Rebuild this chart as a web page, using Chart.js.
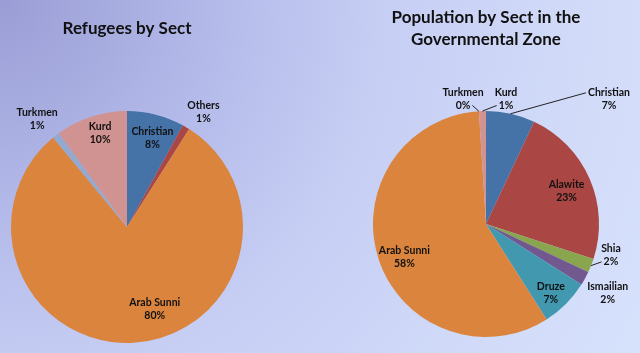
<!DOCTYPE html>
<html>
<head>
<meta charset="utf-8">
<script src="https://cdn.jsdelivr.net/npm/chart.js@4/dist/chart.umd.min.js"></script>
<style>
  html, body { margin: 0; padding: 0; }
  body {
    width: 640px; height: 353px; overflow: hidden; position: relative;
    background: radial-gradient(circle at 0 0, #9a9dd5 0px, #b4bbea 220px, #c6cef4 380px, #d2dcf9 600px, #d7e2fd 740px);
  }
  #left { position: absolute; left: 0; top: 0; }
  #right { position: absolute; left: 330px; top: 0; }
</style>
</head>
<body>
<canvas id="left" width="254" height="353"></canvas>
<canvas id="right" width="310" height="353"></canvas>
<script>
// data
const refugeeSects = ['Christian', 'Others', 'Arab Sunni', 'Turkmen', 'Kurd'];
const refugeeShare = [8, 1, 80, 1, 10];
const govSects = ['Christian', 'Alawite', 'Shia', 'Ismailian', 'Druze', 'Arab Sunni', 'Turkmen', 'Kurd'];
const govShare = [7, 23, 2, 2, 7, 58, 0, 1];

// excel-ish palette
const colorOf = {
  'Christian': '#4572A7', 'Others': '#AA4643', 'Alawite': '#AA4643', 'Shia': '#89A54E',
  'Ismailian': '#71588F', 'Druze': '#4198AF', 'Arab Sunni': '#DB843D',
  'Turkmen': '#93A9CF', 'Kurd': '#D19392'
};

// label placement: [angle shift in deg, radius factor, leader side, leader line]
const refugeePlace = [[1.5, 0.8], [3, 1.19], [-15, 0.75], [-2, 1.21], [2, 0.84]];
const govPlace = [[32, 1.55, 'left', 0], [1.2, 0.77], [-7.5, 1.14, 'left', 1], [0.9, 1.24],
  [1.9, 0.84], [-4.2, 0.78], [-6.8, 1.125, 'right', 1], [10.9, 1.12, 'left', 1]];

const sliceLabels = {
  id: 'sliceLabels',
  afterDatasetsDraw(chart, args, opts) {
    const ctx = chart.ctx;
    const meta = chart.getDatasetMeta(0);
    const ds = chart.data.datasets[0];
    ctx.save();
    ctx.font = 'bold 10.5px Lato';
    ctx.textAlign = 'center';
    ctx.textBaseline = 'middle';
    meta.data.forEach((arc, i) => {
      const p = opts.place[i];
      const mid = (arc.startAngle + arc.endAngle) / 2;
      const a = mid + p[0] * Math.PI / 180;
      const r = arc.outerRadius * p[1];
      const x = arc.x + Math.cos(a) * r;
      const y = arc.y + Math.sin(a) * r;
      const lines = [chart.data.labels[i], Math.round(ds.data[i]) + '%'];
      const lh = 13;
      if (p[2]) {
        const w = ctx.measureText(lines[p[3]]).width;
        const ly = y - lh / 2 + p[3] * lh;
        const lx = p[2] === 'left' ? x - w / 2 - 2 : x + w / 2 + 2;
        ctx.strokeStyle = '#222';
        ctx.lineWidth = 1;
        ctx.beginPath();
        ctx.moveTo(arc.x + Math.cos(mid) * arc.outerRadius, arc.y + Math.sin(mid) * arc.outerRadius);
        ctx.lineTo(lx, ly);
        ctx.stroke();
      }
      ctx.fillStyle = '#111';
      lines.forEach((t, k) => ctx.fillText(t, x, y - lh / 2 + k * lh));
    });
    ctx.restore();
  }
};

function makePie(id, labels, values, place, title, pad, titlePad) {
  return new Chart(document.getElementById(id), {
    type: 'pie',
    data: {
      labels: labels,
      datasets: [{
        data: values,
        backgroundColor: labels.map(l => colorOf[l]),
        borderWidth: 0,
        hoverOffset: 0
      }]
    },
    options: {
      responsive: false,
      animation: false,
      events: [],
      layout: { padding: pad },
      plugins: {
        legend: { display: false },
        tooltip: { enabled: false },
        title: {
          display: true,
          text: title,
          color: '#111',
          font: { family: 'Lato', size: 17, weight: 'bold', lineHeight: 22 / 17 },
          padding: titlePad
        },
        sliceLabels: { place: place }
      }
    },
    plugins: [sliceLabels]
  });
}

makePie('left', refugeeSects, refugeeShare, refugeePlace, 'Refugees by Sect',
  { left: 11, right: 11, top: 0, bottom: 10 }, { top: 18, bottom: 71 });
makePie('right', govSects, govShare, govPlace, ['Population by Sect in the', 'Governmental Zone'],
  { left: 43, right: 41, top: 0, bottom: 16 }, { top: 7, bottom: 60 });
</script>
</body>
</html>
